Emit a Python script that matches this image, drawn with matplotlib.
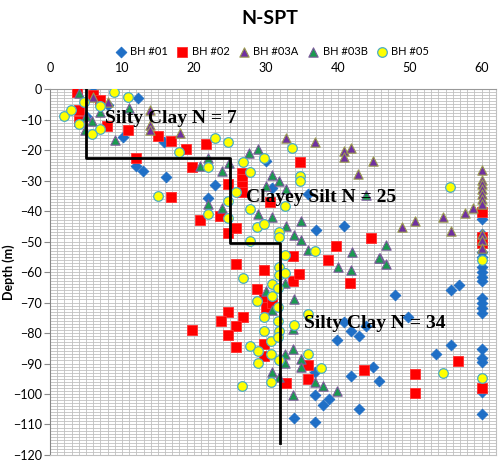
import matplotlib
matplotlib.use('Agg')
import matplotlib.pyplot as plt
from matplotlib.ticker import MultipleLocator

plt.rcParams['font.family'] = ['Lato', 'DejaVu Sans']

# SPT blow counts (N) and depths (m) per borehole
bh01_n = [6, 12.2, 8.1, 5, 10.1, 15.9, 11.9, 12.9, 16.1, 23, 22, 30, 30.8, 35.8, 37, 40.8,
          47.9, 55.7, 56.8, 49.7, 42.9, 55.7, 53.7, 44.9, 45.8, 42.9, 40.9, 41.8, 39.9, 43.9,
          36.9, 41.8, 36.9, 37.9, 38.8, 33.9, 36.9,
          60, 60, 60, 60, 60, 60, 60, 60, 60, 60, 60, 60, 60, 60, 60, 60, 60, 60]
bh01_d = [-1, -2.8, -5.3, -9, -15.8, -17.5, -25.4, -27, -28.9, -31.5, -35.7, -23.6, -32.6, -34.5, -46.2, -45,
          -67.4, -66, -64.2, -74.8, -81, -83.9, -86.9, -91, -95.8, -104.8, -76.3, -79.5, -82.2, -77.7,
          -92.9, -94, -100.4, -103.6, -101.6, -107.8, -109.2,
          -42.5, -47.4, -53.3, -55, -58.5, -60, -61.5, -63, -68.5, -70.1, -71.8, -73.4, -85.3, -88.3,
          -89.6, -99.4, -106.4, -51]

bh02_n = [3.8, 6, 6.9, 4, 4, 7.9, 10.9, 15, 16.8, 18.9, 21.7, 11.9, 19.7, 16.8, 24.7, 26.7,
          26.7, 26.7, 26.7, 20.9, 23.7, 24.7, 25.9, 25.9, 24.7, 23.8, 26.8, 25.9, 24.7, 19.7,
          25.9, 34.7, 30.6, 29.7, 33.8, 33.8, 34.6, 28.8, 29.7, 30, 30.9, 44.6, 39.7, 38.6,
          41.7, 29.8, 29.7, 35.8, 35.8, 32.8, 43.7, 50.7, 50.7, 56.7, 60, 60, 60, 60]
bh02_d = [-1, -2, -3.6, -6.8, -10.6, -12.2, -13.5, -15.3, -16.9, -19.8, -18, -22.7, -25.7, -35.5, -31.3, -27.4,
          -29.5, -31.7, -33.9, -43.1, -41.7, -47.2, -45.5, -57.4, -73, -76.1, -74.7, -77.7, -80.6, -79,
          -84.7, -24, -37.1, -59.5, -54.6, -62.8, -60.7, -65.6, -69, -71.5, -70.1, -48.7, -51.4, -56.1,
          -63.6, -83.5, -87.7, -90.5, -95.2, -96.4, -92.2, -93.4, -99.7, -89.1, -40.4, -48.5, -50.5, -97.9]

bh03a_n = [6, 8.1, 13.9, 13.9, 13.9, 18.1, 32.8, 36.9, 40.8, 40.8, 41.8, 44.9, 42.8, 48.9,
           50.8, 54.7, 55.7, 57.7, 58.8, 60, 60, 60, 60, 60, 60, 60, 60, 60, 60]
bh03a_d = [-2.5, -4.1, -7, -11.7, -13.3, -14.4, -16.1, -17.4, -20.2, -22.4, -19.2, -23.6, -28, -45.2,
           -43.3, -42, -46.5, -40.6, -39, -26.4, -29.7, -31.3, -32.9, -34.5, -36.1, -37.8, -47.5, -49.5, -52]

bh03b_n = [4, 11, 6.9, 5, 5.9, 4.8, 9, 22, 20.9, 24.9, 23.9, 21.9, 23.9, 27.7, 28.9, 30.8,
           31.9, 30, 32.8, 28.9, 30.8, 32.8, 34.9, 33.9, 34.9, 35.9, 40, 41.8, 42, 45.9, 46.7,
           46.7, 45.8, 43.9, 33.9, 32.7, 30, 30.8, 33.8, 33.8, 32.7, 32.7, 34.9, 34.9, 30.8,
           31.8, 36.9, 37.9, 39.9, 33.8]
bh03b_d = [-1.4, -6.3, -7.4, -9, -10.6, -13.3, -16.6, -22.5, -25.4, -24.1, -27, -37.7, -39.1, -21, -19.7, -28.3,
           -30.2, -31.8, -32.9, -40.9, -41.9, -45, -43.4, -47.9, -49.6, -52.8, -58.2, -59.3, -53.6, -55.5, -51,
           -57.4, -55.5, -34.7, -68.8, -63.5, -66.3, -72.3, -78.8, -85.3, -86.9, -89.9, -88.5, -91.2, -92.9,
           -94.5, -96.1, -97.4, -99, -100.2]

bh05_n = [2, 2.9, 4.7, 8.9, 10.9, 6.9, 4, 5.8, 6.9, 23, 24.8, 17.9, 21.9, 15, 21.9, 24.8,
          24.8, 25.8, 26.8, 27.8, 29.7, 33.7, 34.7, 34.7, 32.7, 27.8, 28.8, 29.7, 31.8, 31.8,
          27.8, 36.8, 32.7, 31.8, 31.8, 55.6, 60, 32.7, 26.8, 30.8, 30.8, 31.7, 28.8, 29.8,
          31.7, 31.7, 33.9, 31.8, 29.8, 30.7, 27.8, 28.9, 28.9, 31.8, 35.8, 37.7, 30.7, 26.7,
          35.8, 54.6, 60, 31.7, 30.7]
bh05_d = [-8.8, -6.8, -4.3, -1.1, -2.5, -5.7, -11.5, -14.6, -13.1, -16.2, -17.3, -20.6, -25.7, -35.2, -41.1, -42.3,
          -36.6, -33.7, -23.9, -27.2, -22.6, -19.4, -28.6, -30.2, -38.2, -39.5, -45.2, -44.2, -46.9, -48.5,
          -49.9, -53, -54.4, -58.2, -60.9, -32, -56.1, -60.4, -61.8, -63.9, -67.8, -65.3, -69.6, -74.8,
          -71.5, -75.9, -77.5, -79.4, -79.5, -82.6, -84.2, -85.8, -89.8, -88.7, -86.9, -91.5, -96.1, -97.4,
          -73.7, -93.2, -94.7, -81.2, -87]

# design N profile: layer value, top and bottom depth
layer_n = [5, 25, 32]
layer_top = [0, -22.5, -50.5]
layer_bot = [-22.5, -50.5, -116]
layer_names = ['Silty Clay N = 7', 'Clayey Silt N = 25', 'Silty Clay N = 34']
label_xy = [(7.6, -9.6), (27.2, -35.6), (35.3, -76.8)]

fig = plt.figure(figsize=(5.03, 4.63), dpi=100)
ax = fig.add_axes([0.0994, 0.0173, 0.8867, 0.7904])

ax.set_xlim(0, 62)
ax.set_ylim(-120, 0)
ax.xaxis.set_major_locator(MultipleLocator(10))
ax.yaxis.set_major_locator(MultipleLocator(10))
ax.xaxis.set_minor_locator(MultipleLocator(1))
ax.yaxis.set_minor_locator(MultipleLocator(1))
ax.grid(True, which='both', color='#c0c0c0', lw=0.6)
ax.set_axisbelow(True)
ax.xaxis.tick_top()
ax.tick_params(axis='x', which='both', length=0, pad=11, labelsize=9)
ax.tick_params(axis='y', which='major', length=4, color='#888888', labelsize=9, pad=2)
ax.tick_params(axis='y', which='minor', length=0)
for s in ax.spines.values():
    s.set_color('#c0c0c0')
ax.spines['left'].set_color('#888888')
ax.spines['top'].set_color('#999999')
ax.set_ylabel('Depth (m)', fontsize=9, fontweight='bold')
ax.yaxis.set_label_coords(-0.078, 0.5)

ax.scatter(bh01_n, bh01_d, marker='D', s=30, c='#1f6fc6', edgecolors='#1f6fc6', lw=0.6, label='BH #01', zorder=3)
ax.scatter(bh02_n, bh02_d, marker='s', s=42, c='#ff0000', edgecolors='#ff3030', lw=0.6, label='BH #02', zorder=3)
ax.scatter(bh03a_n, bh03a_d, marker='^', s=45, c='#7030a0', edgecolors='#9a9a50', lw=0.8, label='BH #03A', zorder=3)
ax.scatter(bh03b_n, bh03b_d, marker='^', s=45, c='#1a9a50', edgecolors='#7a5a9a', lw=0.8, label='BH #03B', zorder=3)
ax.scatter(bh05_n, bh05_d, marker='o', s=48, c='#ffff00', edgecolors='#4bacc6', lw=0.9, label='BH #05', zorder=3)

# stepped profile through the layers
px, py = [], []
for n, t, b in zip(layer_n, layer_top, layer_bot):
    px += [n, n]
    py += [t, b]
ax.plot(px, py, color='black', lw=2, zorder=4)

for name, (tx, ty) in zip(layer_names, label_xy):
    ax.text(tx, ty, name, family='Liberation Serif', fontweight='bold', fontsize=14,
            va='center', ha='left', zorder=5)

fig.text(0.537, 0.961, 'N-SPT', ha='center', va='center', fontsize=14, fontweight='bold')
fig.legend(loc='center', bbox_to_anchor=(0.541, 0.888), ncol=5, frameon=False, fontsize=8,
           handletextpad=0.35, handlelength=1.0, columnspacing=0.8, borderaxespad=0, scatterpoints=1)

fig.savefig('out.png', dpi=100)
